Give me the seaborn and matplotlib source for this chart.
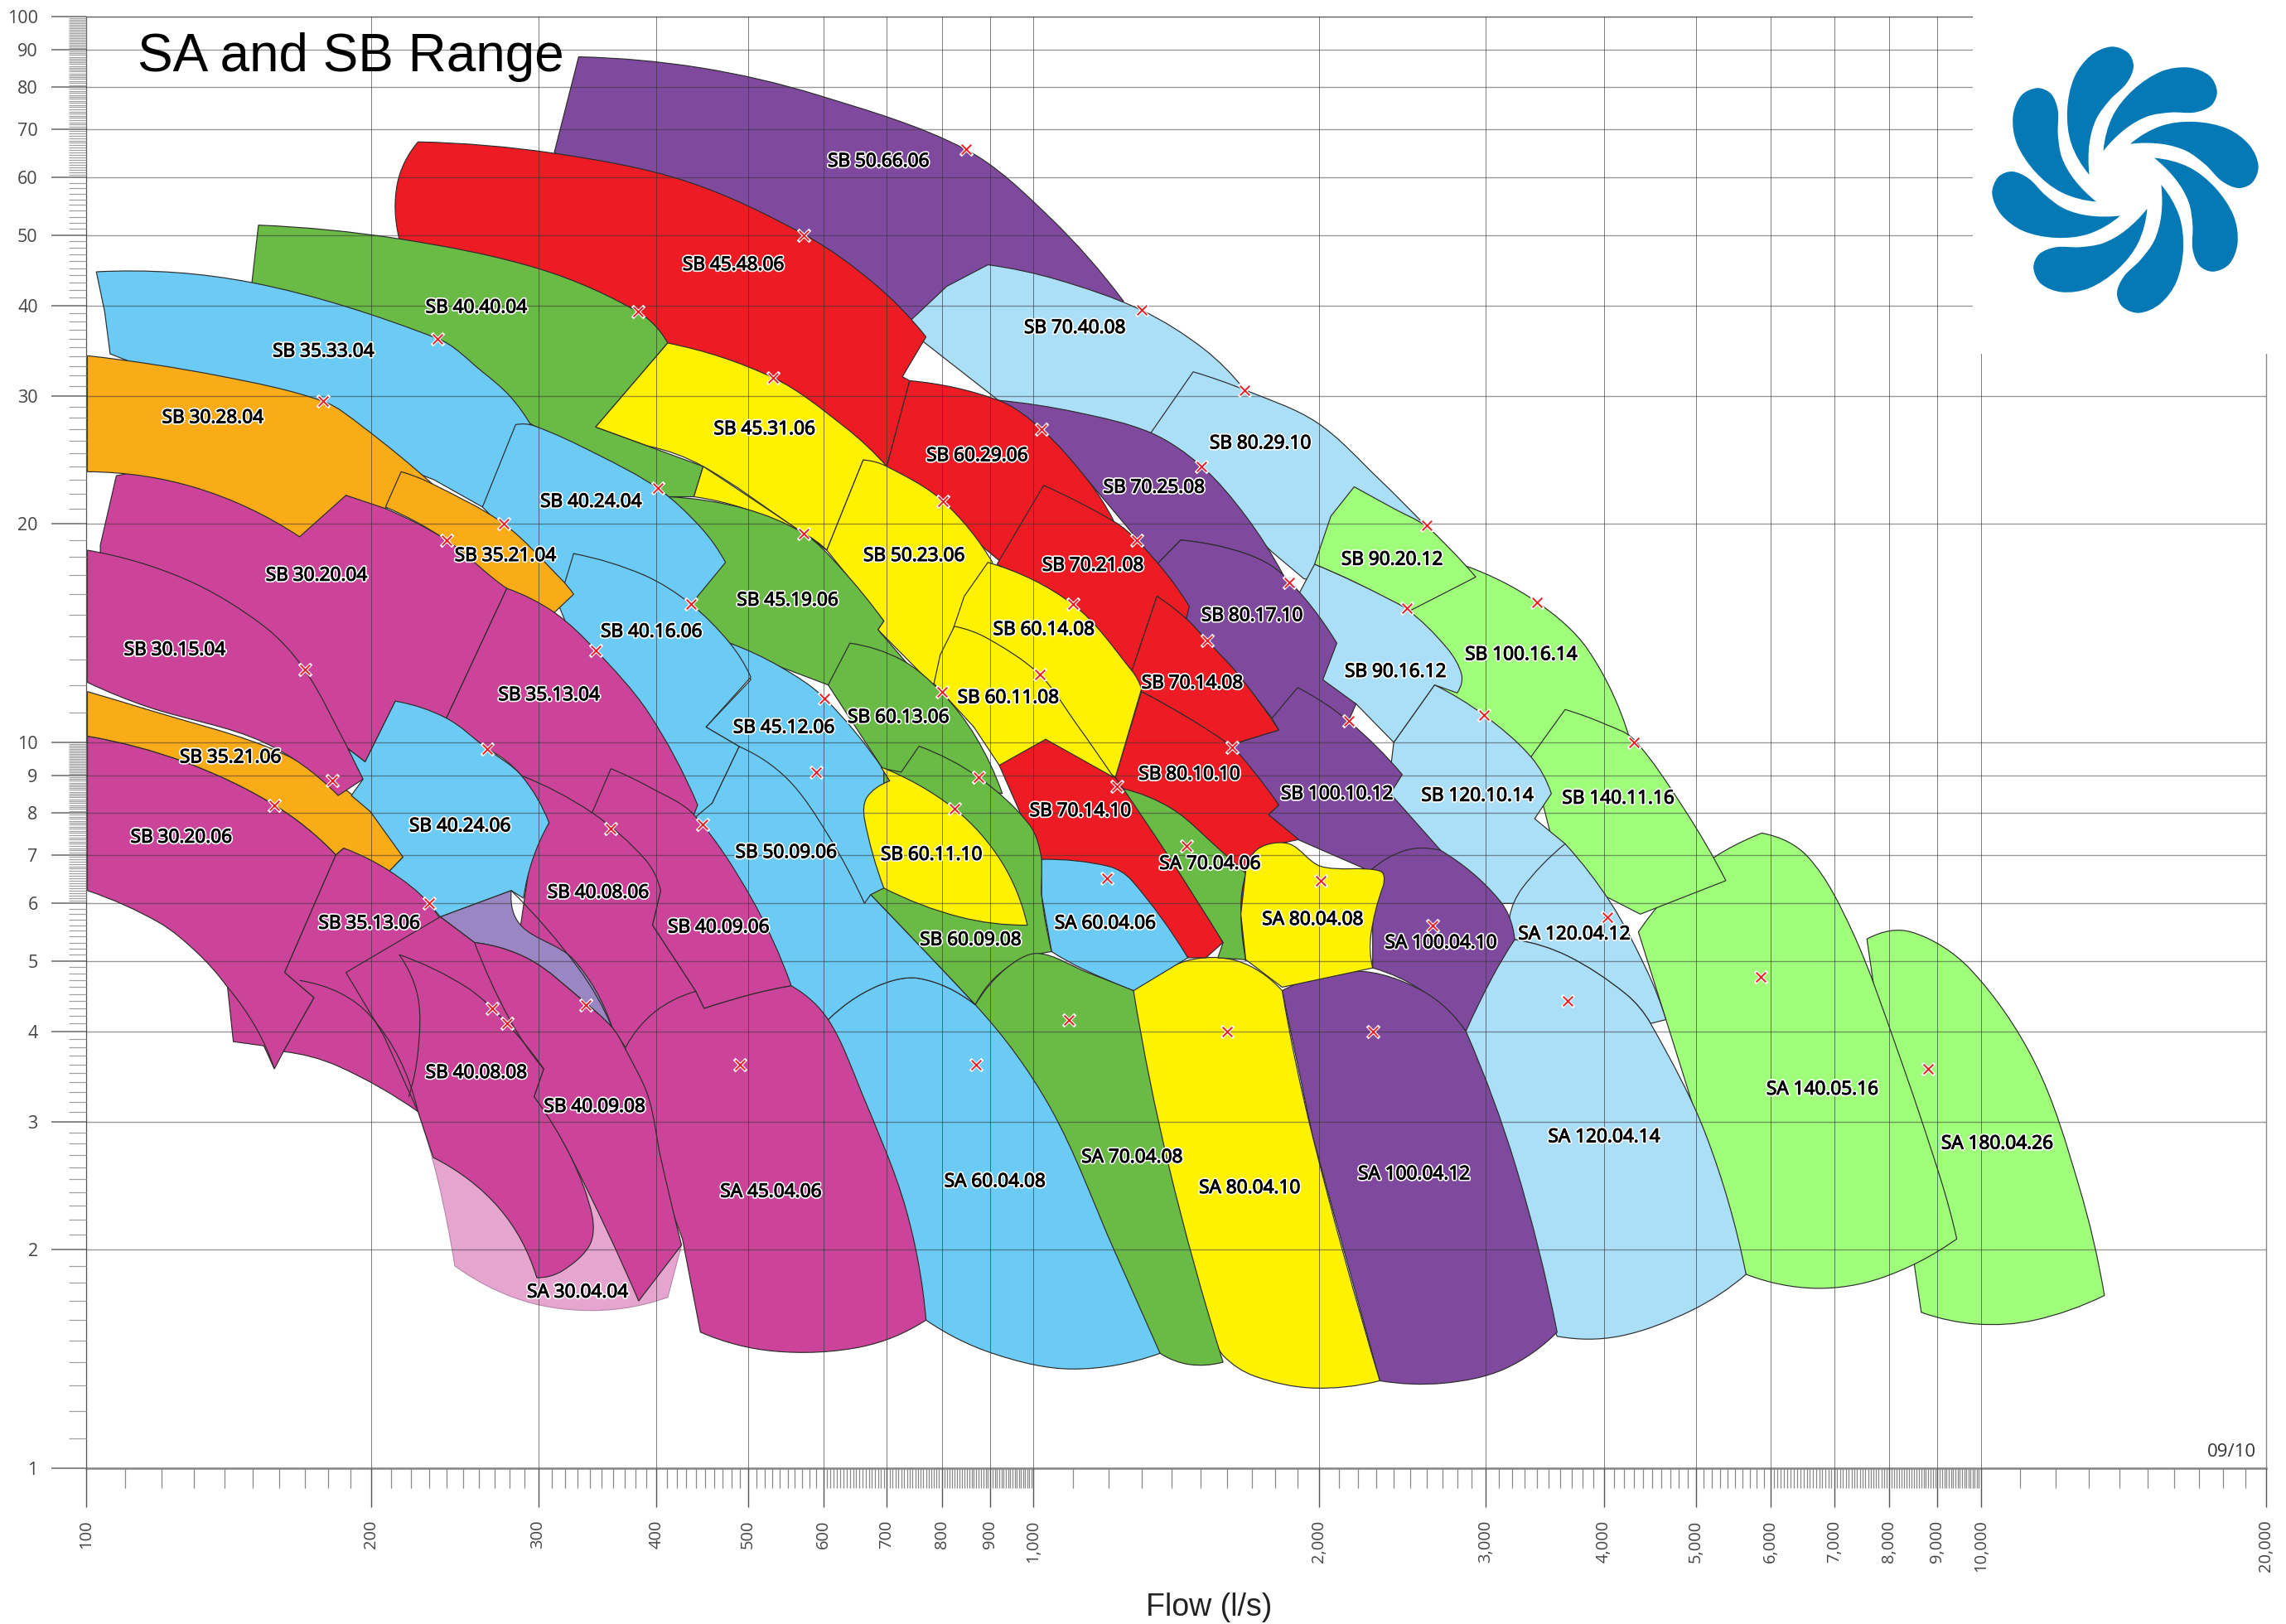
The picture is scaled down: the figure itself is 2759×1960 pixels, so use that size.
import numpy as np
import matplotlib
matplotlib.use('Agg')
import matplotlib.pyplot as plt
import matplotlib.patheffects as pe
from matplotlib.path import Path
from matplotlib.patches import PathPatch, Rectangle
from matplotlib.ticker import NullFormatter
import seaborn as sns

# colours of the pump families
PURPLE = '#7F4A9E'
RED = '#ED1C24'
GREEN = '#69BB45'
SKY = '#6BCBF5'
ORANGE = '#FAAB18'
MAGENTA = '#CC4499'
YELLOW = '#FFF200'
PALE = '#ABDFF8'
LIME = '#A0FF7A'
PINK = '#E5A5CF'
WEDGE = '#9B86C4'

# ---------------- RANGE OUTLINES (flow l/s, head) ---------------- #
# each outline is a list of edges; an edge runs on from the end of the one before
SA_180_04_26 = [[(7580,5.36),(8440,5.48),(9730,4.88),(11400,3.62),(12700,2.44),(13500,1.73)],
                [(11400,1.6),(9900,1.58),(8650,1.64)]]
SA_140_05_16 = [[(4350,5.48),(4950,6.6),(5870,7.5)],[(6570,6.95),(7320,5.48),(8150,3.79),(9070,2.5),(9430,2.07)],
                [(7860,1.83),(6680,1.77),(5650,1.85)]]
SB_50_66_06 = [[(331,88),(445,85),(591,78),(848,65.6),(1040,52.9),(1245,40.5)],[(970,37.4)],[(743,36)],[(312,65)]]
SB_70_40_08 = [[(895,45.5),(1060,43.4),(1300,39.4),(1510,34.9),(1670,30.6)],[(1330,26.7)],[(918,29.6)],
               [(730,37.4)],[(810,42.5)]]
SB_80_29_10 = [[(1474,32.4),(1670,30.6),(1990,27.6),(2320,23),(2590,19.9)],[(2230,16.6)],[(1930,16.8)],
               [(1785,18.3)],[(1330,26.7)]]
SB_100_16_14 = [[(2860,17.5),(3400,15.6),(3850,13.4),(4260,10.1)],[(3480,9.1)],[(2650,12)],[(2400,13)],[(2400,17)]]
SB_140_11_16 = [[(3640,11.1),(4010,10.6),(4300,10.1),(4860,8.1),(5380,6.45)],[(4370,5.8)],[(3600,6.6)],[(3350,9.55)]]
SB_120_10_14 = [[(2650,12),(2990,10.9),(3350,9.55),(3520,8.5)],[(3380,7.85)],[(3640,7.25)],[(3490,6)],
                [(2810,6)],[(2350,7.95)],[(2400,10)]]
SA_120_04_12 = [[(3640,7.25),(4070,6),(4450,4.82),(4650,4.15)],[(4480,4.1)],[(4220,4.5),(3660,5.08),(3220,5.35)],
                [(3180,5.74),(3280,6.3),(3640,7.25)]]
SA_120_04_14 = [[(3220,5.35),(3660,5.08),(4220,4.5),(4480,4.1),(5130,2.87),(5650,1.85)],
                [(4950,1.65),(4150,1.52),(3570,1.52)],[(3000,2.6),(2700,4)]]
SB_90_16_12 = [[(1980,17.6),(2190,16.6),(2470,15.3),(2730,13.5),(2830,12.4),(2800,11.7)],[(2650,12)],[(2400,10)],
               [(2190,11.3)],[(2010,12)],[(1900,15.9)]]
SB_90_20_12 = [[(2180,22.5),(2400,21),(2590,19.9),(2760,18.4),(2930,16.9)],[(2500,15.2)],[(2190,16.6),(1980,17.6)],
               [(2060,20.5)]]
SB_70_25_08 = [[(918,29.6),(1110,28.5),(1330,26.7),(1505,24),(1675,20.5),(1835,17)],[(1675,18.2),(1430,19)],
               [(1350,17.6)],[(1285,19.1)],[(1140,23)],[(1020,27)]]
SB_80_17_10 = [[(1430,19),(1675,18.2),(1835,17),(2090,13.7)],[(2020,12.2)],[(2190,11.3)],[(2150,10.7)],
               [(1785,10.8)],[(1645,12.4)],[(1450,14.8)],[(1350,17.6)]]
SB_100_10_12 = [[(1900,11.9),(2150,10.7),(2450,9.03)],[(2380,8.5)],[(2690,7.1)],[(2470,7.1)],[(2265,6.65)],
                [(1900,7.35)],[(1770,7.95)],[(1815,8.2)],[(1620,9.85)],[(1645,10)],[(1815,10.4)],[(1785,10.8)]]
SA_100_04_10 = [[(2265,6.65),(2470,7.1),(2690,7.1)],[(3100,6.07),(3220,5.35)],[(3050,4.75),(2860,4)],
                [(2570,4.55),(2280,4.89)],[(2280,5.62)]]
SA_100_04_12 = [[(1830,4.55),(2190,4.84),(2570,4.55),(2860,4)],[(3230,2.6),(3570,1.54)],
                [(3140,1.37),(2710,1.31),(2320,1.32)],[(1970,2.87)]]
SA_80_04_10 = [[(1275,4.55),(1450,5),(1640,5),(1830,4.55)],[(1970,2.87),(2320,1.32)],
               [(1970,1.29),(1710,1.34),(1585,1.43)],[(1350,2.07),(1200,3.45)]]
SB_45_48_06 = [[(214,49.4),(213,58.8),(224,67.2)],[(312,64.8),(430,59.3),(574,50),(680,42.8),(770,36.2)],
               [(727,31.9)],[(740,31.5)],[(700,24)],[(477,29.1)]]
SB_60_29_06 = [[(740,31.5),(918,29.6),(1020,27),(1140,23),(1215,20.2)],[(970,16.8)],[(700,24)]]
SB_40_40_04 = [[(149.6,43),(152,51.6)],[(214,49.4),(301,44.9),(382,39.2),(411,35.5)],[(345,27.2)],[(448,24)],
               [(438,21.8)],[(411,21.8)],[(401,22.4),(297,27.3)],[(235,33)],[(149.6,38)]]
SB_45_31_06 = [[(345,27.2)],[(411,35.5)],[(531,31.8),(632,27.2),(700,24)],[(661,24.5)],[(605,18.4)],
               [(562,19.7),(448,24),(392,25.6)]]
SB_45_31_TAIL = [[(448,24),(562,19.7),(605,18.4)],[(572,19.4),(495,21),(438,21.8)]]
SB_50_23_06 = [[(661,24.5),(700,24),(802,21.5),(905,17.7)],[(815,12)],[(780,12.05)],[(685,14.3)],[(695,14.7)],[(605,18.4)]]
SB_70_21_08 = [[(1025,22.6),(1220,20.1),(1285,19),(1385,17),(1460,15.4)],[(1450,14.8)],[(1350,15.9)],[(1270,12.55)],
               [(1100,15.5)],[(915,17.6)]]
SB_70_14_08 = [[(1350,15.9),(1450,14.8),(1525,13.8),(1645,12.4),(1815,10.4)],[(1645,10)],
               [(1620,9.85),(1475,10.7),(1300,11.75)],[(1270,12.55)]]
SB_80_10_10 = [[(1300,11.75),(1475,10.7),(1620,9.85),(1710,9.1),(1815,8.2)],[(1770,7.95)],[(1905,7.35)],[(1730,7.15)],
               [(1675,5)],[(1385,7)],[(1220,8.95)]]
SA_70_04_06 = [[(1235,8.65),(1400,8.1),(1575,7.1),(1675,6.6)],[(1655,5.9),(1675,5.02)],[(1565,5.05)],[(1585,5.3)],[(1385,7)]]
SA_80_04_08 = [[(1675,6.65),(1730,7.15),(1860,7.25),(2010,6.75),(2320,6.65),(2340,6.35)],[(2270,5.42),(2280,4.89)],
               [(1830,4.6)],[(1675,5.02)],[(1655,5.8)]]
SB_70_14_10 = [[(920,9.3),(970,9.87),(1030,10.1),(1100,9.75),(1220,8.95)],[(1385,7),(1585,5.3)],[(1520,5.05)],[(1455,5.05)],
               [(1270,6.45)],[(1200,6.75)],[(1020,6.9)],[(970,7.95)]]
SB_60_14_08 = [[(895,17.7),(1100,15.5),(1270,12.55),(1300,11.85)],[(1220,8.95)],[(1040,10.5)],[(785,12.05)],
               [(825,14.5),(845,15.9)]]
SB_60_11_08 = [[(825,14.45),(895,13.9),(1015,12.4),(1110,10.6),(1215,8.95)],[(1030,10.1)],[(920,9.3)],[(865,10.5)],
               [(785,12.05)],[(797,13.2)]]
SB_45_19_06 = [[(411,21.8),(495,21),(572,19.4),(623,17.5),(695,14.7)],[(685,14.3)],[(745,12.6)],[(680,11.75)],[(607,12)],
               [(541,12.7)],[(478,13.7)],[(435,15.5)]]
SB_45_12_06 = [[(478,13.7),(541,12.7),(602,11.5),(695,9.15)],[(700,6.3)],[(663,6)],[(607,7.45)],[(489,9.87)],[(451,10.5)],[(503,12.2)]]
SB_60_13_06 = [[(640,13.7),(725,13),(798,11.75),(868,10.2),(927,8.5)],[(725,9.1)],[(695,9.15)],[(607,12)]]
SB_60_09_08 = [[(757,9.88),(875,8.95),(990,7.7),(1020,6.9),(1020,6.15),(1045,5.15)],[(935,4.88),(868,4.35)],
               [(785,5),(673,6.17)],[(695,6.3)],[(695,9.2)],[(725,9.1)]]
SB_60_11_10 = [[(690,9.25)],[(705,8.85)],[(667,8.4),(663,7.85),(695,6.3)],[(835,5.75),(985,5.6)],[(925,6.85),(825,8.1),(690,9.25)]]
SA_60_04_06 = [[(1020,6.9),(1200,6.75),(1270,6.45),(1455,5.05)],[(1275,4.55)],[(1125,4.88),(1045,5.15)],[(1020,6.15)]]
SA_70_04_08 = [[(868,4.35),(935,4.88),(1010,5.12),(1140,4.82),(1275,4.55)],[(1390,2.6),(1585,1.4)],[(1460,1.39),(1360,1.44)],
               [(1100,2.18),(950,3.3)]]
SA_60_04_08 = [[(607,4.15),(680,4.6),(757,4.73),(868,4.35)],[(1040,3.15),(1220,1.98),(1360,1.44)],
               [(1100,1.37),(905,1.44),(770,1.6)],[(700,2.4),(640,3.2)]]
SB_35_33_04 = [[(102.5,44.5),(149.6,43),(235,36),(262,32.4),(280,30),(295,27.3)],[(262,21.1)],[(233,23)],[(106,34.3)],[(104.6,39.2)]]
SB_30_28_04 = [[(100.3,34.1),(138,32),(178,29.5),(196,27.2),(232,22.7)],[(207,21)],[(188,21.9)],[(168,19.2)],
               [(131,22.4),(100.3,23.6)]]
SB_40_24_04 = [[(284,27.4)],[(297,27.3),(345,25),(401,22.4),(445,19.8),(473,17.7)],[(435,15.5)],[(388,17)],[(327,18.2)],
               [(325,15.2)],[(275,19.8)],[(262,21.1)]]
SB_40_16_06 = [[(327,18.2),(388,17),(435,15.5),(478,13.7),(503,12.3)],[(451,10.5)],[(489,9.87)],[(458,8.25)],[(430,7.5)],
               [(370,10),(315,15.5)]]
SB_50_09_06 = [[(489,9.87),(550,8.9),(607,7.45),(663,6)],[(673,6.17)],[(785,5),(868,4.35)],[(757,4.73),(680,4.6),(607,4.15)],
               [(530,4.6)],[(480,6),(430,7.7)],[(458,8.25)]]
SB_35_21_04 = [[(215,23.6),(232,22.7),(276,20),(317,16.8),(327,16)],[(312,15.1)],[(278,16.3),(240,19),(207,21.1)]]
SB_30_20_04 = [[(107.6,23.3)],[(140,25)],[(188,24)],[(188,21.9)],[(207,21),(240,19),(278,16.3)],[(240,10.8)],[(212,11.4)],
               [(197,9.4)],[(189,9.8)],[(150,12)],[(103.5,15)],[(103.5,18.7)]]
SA_30_04_04 = [[(224,3.1),(235,2.5),(245,1.9)],[(290,1.7),(347,1.65),(411,1.72)],[(425,2.03)],[(385,3.3)],[(235,5.5)]]
SB_30_20_06 = [[(100.3,10.2),(127,9.4),(158,8.2),(183.5,7)],[(162,4.82)],[(174,4.45)],[(161.5,3.75)],[(158,3.55)],[(154,3.82)],
               [(143,3.87)],[(141,4.6)],[(131,5.13),(119.3,5.65),(100.3,6.25)]]
SB_35_21_06 = [[(100.3,11.75),(116,11.1),(154,9.9),(182,8.85),(199.5,8.03),(216,6.95)],[(209,6.65)],[(187,7.15)],[(183.5,7)],
               [(158,8.2),(127,9.4),(100.3,10.2)]]
SB_30_15_04 = [[(100.3,18.4),(127,16.8),(153.6,14.5),(170,12.6),(189,9.8),(196,8.9)],[(184.5,8.45)],
               [(154,10),(116,11.2),(100.3,12.1)]]
SB_35_13_04 = [[(278,16.3),(312,15.1),(345,13.4),(392,11),(442,8.2)],[(438,7.95)],[(360,6.7)],[(308,7.75)],[(288,9),(265,9.8)],[(240,10.8)]]
SB_40_09_06 = [[(358,9.2),(395,8.65),(438,7.95),(503,6.12),(555,4.62)],[(505,4.5),(449,4.3)],[(440,4.54)],[(396,5.6)],[(404,6.25)],
               [(389,6.9)],[(342,8)]]
SB_40_08_06 = [[(288,9),(342,8),(389,6.9),(404,6.25)],[(396,5.6)],[(440,4.54)],[(398,4.25)],[(371,3.8)],[(359,4.05)],
               [(335,4.4),(287.5,5.6)],[(295,7.05)],[(308,7.75)]]
SB_40_24_06 = [[(212,11.4),(240,10.8),(265,9.8),(288,9),(308,7.75)],[(296,6.9),(289.5,6.1)],[(281,6.25)],[(236.5,5.75)],[(230,6)],
               [(209,6.65)],[(216,6.95)],[(199.5,8.03)],[(190.5,8.45)],[(196,8.9)],[(189,9.8)],[(197,9.4)]]
SA_45_04_06 = [[(371,3.8),(398,4.25),(440,4.54)],[(449,4.3)],[(505,4.5),(555,4.62)],[(607,4.15),(658,3.3),(733,2.28),(770,1.6)],
               [(658,1.47),(532,1.45),(445,1.54)],[(426,2.07)],[(395,2.7)],[(370,3.3)]]
OVERLAP_WEDGE = [[(236.5,5.75)],[(281,6.25)],[(287.5,5.6),(327,5.02),(359,4.05)],[(335,4.4),(294,5.02),(257,5.3)]]
SB_35_13_06 = [[(183.5,7)],[(187,7.15)],[(209,6.65),(230,6),(252,5),(271.5,4.47),(274,4.2)],[(243,4.15)],[(224,3.1)],
               [(184.5,3.58),(161.5,3.75)],[(174,4.45)],[(162,4.82)]]
SB_40_09_08 = [[(257,5.3),(294,5.02),(335,4.4),(359,4.05),(370,3.8),(392,3.25),(404,2.68),(425,2.03)],[(383,1.7)],
               [(325,2.68),(297,3.25)],[(304,3.55)],[(278,4.1)],[(257,4.75)]]
SB_40_08_08 = [[(188,4.82)],[(236.5,5.75)],[(257,5.3)],[(280,4.15),(304,3.55)],[(297,3.25)],
               [(325,2.68),(342,2.23),(340,2.03),(318,1.87),(299,1.83)],[(273,2.28),(232.5,2.68)],[(224,3.1)],[(206,3.95)]]

# back to front, the later ranges sit on top of the earlier ones
ranges = [
    (SA_180_04_26, LIME), (SA_140_05_16, LIME), (SB_50_66_06, PURPLE), (SB_70_40_08, PALE), (SB_80_29_10, PALE),
    (SB_100_16_14, LIME), (SB_140_11_16, LIME), (SB_120_10_14, PALE), (SA_120_04_12, PALE), (SA_120_04_14, PALE),
    (SB_90_16_12, PALE), (SB_90_20_12, LIME), (SB_70_25_08, PURPLE), (SB_80_17_10, PURPLE), (SB_100_10_12, PURPLE),
    (SA_100_04_10, PURPLE), (SA_100_04_12, PURPLE), (SA_80_04_10, YELLOW), (SB_45_48_06, RED), (SB_60_29_06, RED),
    (SB_40_40_04, GREEN), (SB_45_31_06, YELLOW), (SB_45_31_TAIL, YELLOW), (SB_50_23_06, YELLOW), (SB_70_21_08, RED),
    (SB_70_14_08, RED), (SB_80_10_10, RED), (SA_70_04_06, GREEN), (SA_80_04_08, YELLOW), (SB_70_14_10, RED),
    (SB_60_14_08, YELLOW), (SB_60_11_08, YELLOW), (SB_45_19_06, GREEN), (SB_45_12_06, SKY), (SB_60_13_06, GREEN),
    (SB_60_09_08, GREEN), (SB_60_11_10, YELLOW), (SA_60_04_06, SKY), (SA_70_04_08, GREEN), (SA_60_04_08, SKY),
    (SB_35_33_04, SKY), (SB_30_20_04, MAGENTA), (SB_30_28_04, ORANGE), (SB_40_24_04, SKY), (SB_40_16_06, SKY), (SB_50_09_06, SKY),
    (SB_35_21_04, ORANGE), (SA_30_04_04, PINK), (SB_30_20_06, MAGENTA), (SB_35_21_06, ORANGE),
    (SB_30_15_04, MAGENTA), (SB_35_13_04, MAGENTA), (SB_40_09_06, MAGENTA), (SB_40_08_06, MAGENTA), (SB_40_24_06, SKY),
    (SA_45_04_06, MAGENTA), (OVERLAP_WEDGE, WEDGE), (SB_35_13_06, MAGENTA), (SB_40_09_08, MAGENTA), (SB_40_08_08, MAGENTA),
]

# outlines inside the magenta block with no fill of their own
inner_lines = [
    [[(141,4.6),(151,4.05),(158,3.55)]],
    [[(168,4.7),(199.5,4.2),(224,3.1)]],
    [[(214,5.1),(252,4.6),(278,4.1),(304,3.55)]],
    [[(214,5.1),(224,4.45),(224,3.75),(219,3.25)]],
    [[(281,6.25),(331,4.88),(359,4.05)]],
]

# best efficiency points
marker_flow = [848,572,382,531,235,178,1300,1670,1020,802,1505,2600,1863,2480,3400,2990,4300,2150,1285,1100,1525,1620,
               401,572,276,240,435,345,170,265,182,158,230,358,447,602,590,800,1015,875,825,1225,1450,1195,2010,2640,
               4030,3660,5850,8800,1600,2280,1090,870,490,337,278,268]
marker_head = [65.6,50,39.2,31.8,36,29.5,39.4,30.6,27,21.5,24,19.9,16.6,15.3,15.6,10.9,10,10.7,19,15.5,13.8,9.85,
               22.4,19.4,20,19,15.5,13.4,12.6,9.8,8.85,8.2,6,7.6,7.7,11.5,9.1,11.75,12.4,8.95,8.1,8.7,7.2,6.5,6.45,5.6,
               5.75,4.4,4.75,3.55,4,4,4.15,3.6,3.6,4.35,4.1,4.3]

label_names = ['SB 50.66.06','SB 45.48.06','SB 40.40.04','SB 35.33.04','SB 30.28.04','SB 45.31.06','SB 70.40.08','SB 80.29.10',
               'SB 60.29.06','SB 70.25.08','SB 40.24.04','SB 35.21.04','SB 50.23.06','SB 70.21.08','SB 90.20.12','SB 30.20.04',
               'SB 45.19.06','SB 80.17.10','SB 60.14.08','SB 40.16.06','SB 30.15.04','SB 100.16.14','SB 90.16.12','SB 70.14.08',
               'SB 35.13.04','SB 60.11.08','SB 60.13.06','SB 45.12.06','SB 35.21.06','SB 80.10.10','SB 100.10.12','SB 120.10.14',
               'SB 140.11.16','SB 70.14.10','SB 40.24.06','SB 30.20.06','SB 50.09.06','SB 60.11.10','SA 70.04.06','SB 40.08.06',
               'SB 40.09.06','SB 35.13.06','SA 80.04.08','SA 60.04.06','SA 120.04.12','SB 60.09.08','SA 100.04.10','SB 40.08.08',
               'SA 140.05.16','SB 40.09.08','SA 120.04.14','SA 180.04.26','SA 70.04.08','SA 100.04.12','SA 60.04.08','SA 80.04.10',
               'SA 45.04.06','SA 30.04.04']
label_flow = [686,482,258,178,136,520,1105,1735,872,1340,341,277,748,1155,2390,175,550,1700,1025,395,124,3270,2410,1470,308,940,
              720,545,142,1460,2090,2940,4140,1120,248,126,548,780,1535,347,465,199,1970,1190,3720,858,2690,258,6800,344,4000,
              10400,1270,2520,910,1690,528,330]
label_head = [63.6,45.8,40,34.8,28.2,27.2,37.5,26,25,22.6,21.6,18.2,18.2,17.65,17.98,17.1,15.8,15.05,14.4,14.3,13.5,13.3,12.6,12.15,
              11.7,11.6,10.9,10.55,9.6,9.1,8.55,8.5,8.43,8.1,7.72,7.45,7.1,7.05,6.85,6.25,5.6,5.67,5.74,5.67,5.48,5.38,5.33,3.53,
              3.35,3.17,2.88,2.82,2.7,2.56,2.5,2.45,2.42,1.76]

flow_ticks = [100,200,300,400,500,600,700,800,900,1000,2000,3000,4000,5000,6000,7000,8000,9000,10000,20000]
head_ticks = [1,2,3,4,5,6,7,8,9,10,20,30,40,50,60,70,80,90,100]

# logo blade, relative to the logo centre
blade = [(-130,18),(-195,130),(-210,250),(-185,370),(-125,450),(-50,482),(10,460),(30,410),(5,350),(-55,290),(-105,220),(-130,130),(-130,18)]


def smooth(chain, scale):
    # bezier control points for a smooth curve through the points, spacing aware
    n = len(chain)
    seg = np.maximum(np.linalg.norm(np.diff(chain * scale, axis=0), axis=1), 1e-9)
    tan = np.zeros_like(chain)
    for i in range(1, n - 1):
        tan[i] = (chain[i + 1] - chain[i - 1]) / (seg[i - 1] + seg[i])
    tan[0] = 2 * (chain[1] - chain[0]) / seg[0] - tan[1]
    tan[-1] = 2 * (chain[-1] - chain[-2]) / seg[-1] - tan[-2]
    verts = []
    for i in range(n - 1):
        verts.append(chain[i] + tan[i] * seg[i] / 3)
        verts.append(chain[i + 1] - tan[i + 1] * seg[i] / 3)
        verts.append(chain[i + 1])
    return verts


def outline_path(edges, closed=True, log=True):
    # decades are wider along x than along y on this sheet
    scale = np.array([1.304, 1.0]) if log else np.array([1.0, 1.0])
    verts, codes, prev = [], [], None
    for edge in edges:
        pts = np.log10(np.asarray(edge, dtype=float)) if log else np.asarray(edge, dtype=float)
        if prev is None:
            verts.append(pts[0])
            codes.append(Path.MOVETO)
            chain = pts
        else:
            chain = np.vstack([prev, pts])
        if len(chain) == 2:
            verts.append(chain[1])
            codes.append(Path.LINETO)
        elif len(chain) > 2:
            new = smooth(chain, scale)
            verts.extend(new)
            codes.extend([Path.CURVE4] * len(new))
        prev = pts[-1]
    if closed:
        verts.append(verts[0])
        codes.append(Path.CLOSEPOLY)
    verts = np.array(verts)
    return Path(10 ** verts if log else verts, codes)


sns.set_theme(style='white')
plt.rcParams['font.family'] = ['Open Sans', 'DejaVu Sans']

fig = plt.figure(figsize=(27.59, 19.6), dpi=100)
ax = fig.add_axes([0.0377, 0.0959, 0.9536, 0.8939])
ax.set_xscale('log')
ax.set_yscale('log')
ax.set_xlim(100, 20000)
ax.set_ylim(1, 100)

for shape, colour in ranges:
    edge = '#b98aab' if colour == PINK else '#2b2b2b'
    ax.add_patch(PathPatch(outline_path(shape), facecolor=colour, edgecolor=edge, lw=0.85, zorder=1))
for line in inner_lines:
    ax.add_patch(PathPatch(outline_path(line, closed=False), facecolor='none', edgecolor='#2b2b2b', lw=0.85, zorder=1))

# ticks and grid
flow_minor = np.concatenate([np.arange(100, 600, 10), np.arange(600, 1000, 5),
                             np.arange(1000, 6000, 100), np.arange(6000, 10000, 50), np.arange(10000, 20000, 1000)])
head_minor = np.concatenate([np.arange(1, 6, 0.1), np.arange(6, 10, 0.05), np.arange(10, 60, 1), np.arange(60, 100, 0.5)])
ax.set_xticks(flow_ticks)
ax.set_xticklabels([f'{v:,}' for v in flow_ticks], rotation=90, fontsize=14.5, color='#444444')
ax.set_yticks(head_ticks)
ax.set_yticklabels([str(v) for v in head_ticks], fontsize=15.5, color='#444444')
ax.set_xticks(flow_minor, minor=True)
ax.set_yticks(head_minor, minor=True)
ax.xaxis.set_minor_formatter(NullFormatter())
ax.yaxis.set_minor_formatter(NullFormatter())
ax.tick_params(axis='x', which='major', length=34, width=1, color='#555555', pad=11, bottom=True)
ax.tick_params(axis='x', which='minor', length=17, width=0.9, color='#888888', bottom=True)
ax.tick_params(axis='y', which='major', length=30, width=1.4, color='#888888', pad=12, left=True)
ax.tick_params(axis='y', which='minor', length=15, width=0.9, color='#a0a0a0', left=True)
ax.set_axisbelow(False)
ax.grid(True, which='major', axis='x', color='#333333', alpha=0.65, lw=0.7)
ax.grid(True, which='major', axis='y', color='#333333', alpha=0.5, lw=1.0)
for side in ['top', 'right', 'bottom', 'left']:
    ax.spines[side].set_color('#888888')
    ax.spines[side].set_linewidth(1.0)
ax.spines['bottom'].set_linewidth(1.8)

# markers
sns.scatterplot(x=marker_flow, y=marker_head, marker='x', color='white', s=110, linewidth=3.0, zorder=6, ax=ax, legend=False)
sns.scatterplot(x=marker_flow, y=marker_head, marker='x', color='#ED1C24', s=70, linewidth=1.4, zorder=7, ax=ax, legend=False)

# range names
for name, x, y in zip(label_names, label_flow, label_head):
    ax.annotate(name, (x, y), xytext=(0, -2), textcoords='offset points', ha='center', va='center',
                fontsize=16.3, color='black', zorder=8,
                path_effects=[pe.withStroke(linewidth=3.2, foreground='white'), pe.withStroke(linewidth=0.8, foreground='black')])

# white box behind the logo hides the grid there
ax.add_patch(Rectangle((2381 / 2759, 1 - 427 / 1960), 1, 1, transform=fig.transFigure, facecolor='white',
                       edgecolor='none', clip_on=False, zorder=4))

fig.text(166 / 2759, 1 - 69 / 1960, 'SA and SB Range', fontsize=46, family='Liberation Sans', ha='left', va='center', color='black')
fig.text(2693 / 2759, 1 - 1752 / 1960, '09/10', fontsize=16, ha='center', va='center', color='#333333')
fig.text(1459 / 2759, 1 - 1940 / 1960, 'Flow (l/s)', fontsize=27, family='Liberation Sans', ha='center', va='center', color='#222222')

# logo
logo = fig.add_axes([2395 / 2759, 1 - 387 / 1960, 340 / 2759, 340 / 1960])
logo.set_xlim(-510, 510)
logo.set_ylim(-510, 510)
logo.set_axis_off()
blade_xy = np.array(blade, dtype=float)
for k in range(8):
    a = np.deg2rad(-45 * k)
    rot = np.array([[np.cos(a), -np.sin(a)], [np.sin(a), np.cos(a)]])
    turned = blade_xy @ rot.T
    logo.add_patch(PathPatch(outline_path([turned.tolist()], log=False), facecolor='#0579B6', edgecolor='none'))

fig.savefig('out.png', dpi=100)
